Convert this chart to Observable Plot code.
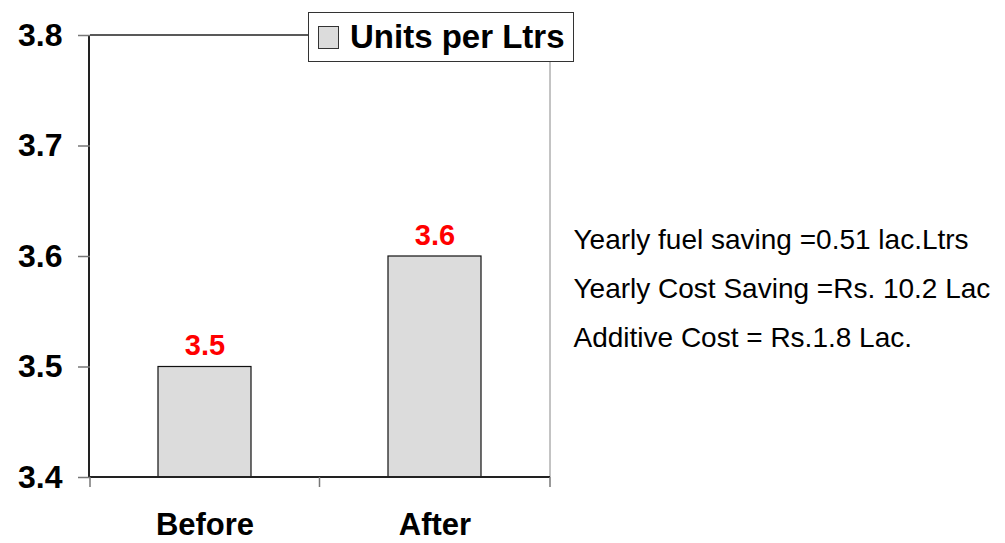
<!DOCTYPE html>
<html>
<head>
<meta charset="utf-8">
<script src="https://cdn.jsdelivr.net/npm/d3@7"></script>
<script src="https://cdn.jsdelivr.net/npm/@observablehq/plot@0.6"></script>
<style>
  html, body { margin: 0; padding: 0; background: #fff; }
  #wrap { position: relative; width: 1005px; height: 543px; font-family: "Liberation Sans", Arial, sans-serif; }
  #legend { position: absolute; left: 308px; top: 12px; width: 266px; height: 50px; border: 1px solid #333; background: #fff;
    box-sizing: border-box; display: flex; align-items: center; font-weight: bold; font-size: 33px; color: #000; white-space: nowrap; }
  #legend .sw { width: 19px; height: 21px; background: #dcdcdc; border: 1px solid #333; margin: 0 11px 0 9px; flex: none; }
</style>
</head>
<body>
<div id="wrap"></div>
<script>
const categories = ["Before", "After"];
const values = [3.5, 3.6];
const yTicks = [3.4, 3.5, 3.6, 3.7, 3.8];
const seriesName = "Units per Ltrs";
const notes = [
  "Yearly fuel saving =0.51 lac.Ltrs",
  "Yearly Cost Saving =Rs. 10.2 Lac",
  "Additive Cost = Rs.1.8 Lac."
];

const data = categories.map((c, i) => ({category: c, value: values[i]}));

const frame = (index, scales, values, dim) => {
  const g = d3.create("svg:g");
  const L = dim.marginLeft, R = dim.width - dim.marginRight;
  const T = dim.marginTop, B = dim.height - dim.marginBottom;
  const x = scales.x;
  const bw = x.bandwidth ? x.bandwidth() : 0;
  const centers = categories.map(c => x(c) + bw / 2);
  const bounds = [L, ...centers.slice(1).map((c, i) => (c + centers[i]) / 2), R];
  g.append("line").attr("x1", L).attr("x2", R).attr("y1", T).attr("y2", T).attr("stroke", "#222").attr("stroke-width", 1.5);
  g.append("line").attr("x1", R).attr("x2", R).attr("y1", T).attr("y2", B).attr("stroke", "#888").attr("stroke-width", 1);
  g.append("line").attr("x1", L - 1).attr("x2", L - 1).attr("y1", T).attr("y2", B).attr("stroke", "#222").attr("stroke-width", 2);
  g.append("line").attr("x1", L).attr("x2", R).attr("y1", B).attr("y2", B).attr("stroke", "#222").attr("stroke-width", 2);
  for (const b of bounds) {
    g.append("line").attr("x1", b).attr("x2", b).attr("y1", B).attr("y2", B + 10).attr("stroke", "#777").attr("stroke-width", 1.5);
  }
  return g.node();
};

const chart = Plot.plot({
  width: 1005,
  height: 543,
  marginLeft: 90,
  marginRight: 455,
  marginTop: 35,
  marginBottom: 66,
  style: {fontFamily: "'Liberation Sans', Arial, sans-serif", background: "#fff", overflow: "visible"},
  x: {domain: categories, paddingInner: 0.595, paddingOuter: 0.2975, label: null},
  y: {domain: [3.4, 3.8], label: null},
  marks: [
    Plot.barY(data, {x: "category", y1: 3.4, y2: "value", fill: "#dcdcdc", stroke: "#111", strokeWidth: 1.2}),
    frame,
    Plot.axisY(yTicks, {tickSize: 12, tickPadding: 16, stroke: "#777", strokeWidth: 1.5, fontSize: 32, fontWeight: "bold", fill: "#000", tickFormat: d => d.toFixed(1)}),
    Plot.axisX(categories, {tickSize: 0, tickPadding: 35, fontSize: 31, fontWeight: "bold", fill: "#000"}),
    Plot.text(data, {x: "category", y: "value", text: d => d.value.toFixed(1), lineAnchor: "bottom", dy: -12, fill: "#ff0000", fontSize: 29, fontWeight: "bold"}),
    Plot.text([notes.join("\n")], {frameAnchor: "right", dx: 23, dy: 26, textAnchor: "start", lineAnchor: "middle", lineHeight: 1.75, fontSize: 28, fill: "#000", text: d => d})
  ]
});

const wrap = document.getElementById("wrap");
wrap.appendChild(chart);
const legend = document.createElement("div");
legend.id = "legend";
legend.innerHTML = '<div class="sw"></div><span></span>';
legend.querySelector("span").textContent = seriesName;
wrap.appendChild(legend);
</script>
</body>
</html>
